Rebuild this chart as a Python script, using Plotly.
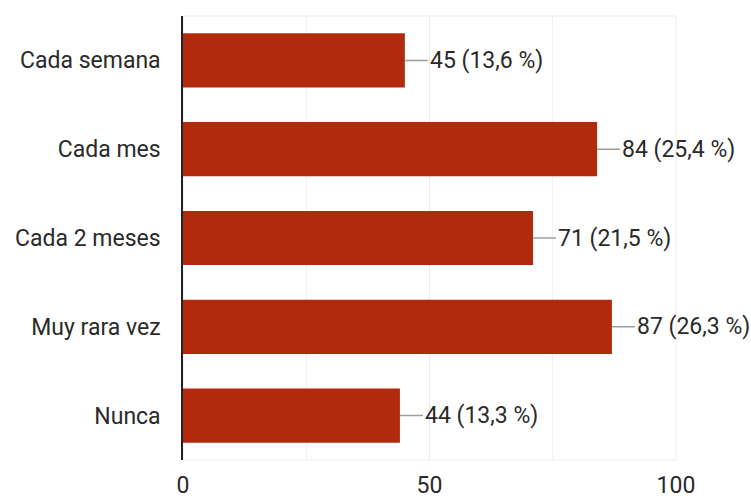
import plotly.graph_objects as go

categories = ["Cada semana", "Cada mes", "Cada 2 meses", "Muy rara vez", "Nunca"]
counts = [45, 84, 71, 87, 44]
percents = ["13,6", "25,4", "21,5", "26,3", "13,3"]
x_ticks = [0, 50, 100]

FS = 23

fig = go.Figure(go.Bar(
    x=counts, y=categories, orientation="h",
    marker=dict(color="#b22a0d", line=dict(width=0)),
    width=0.61, hoverinfo="skip",
))

for c, v, p in zip(categories, counts, percents):
    fig.add_annotation(
        x=v, y=c, xref="x", yref="y",
        text=f"{v} ({p} %)", showarrow=True, arrowhead=0, arrowwidth=1.5,
        arrowcolor="#9e9e9e", ax=23, ay=0, xanchor="left", standoff=0,
        font=dict(family="Roboto", size=FS, color="#2a2a2a"),
    )

fig.add_shape(type="rect", xref="paper", yref="paper", x0=0, x1=1, y0=0, y1=1,
              line=dict(color="#ececec", width=1), layer="below")

fig.update_layout(
    width=751, height=500,
    margin=dict(l=183, r=75, t=16, b=40),
    paper_bgcolor="white", plot_bgcolor="white",
    showlegend=False,
    font=dict(family="Roboto", size=FS, color="#2a2a2a"),
    xaxis=dict(range=[0, 100], tickvals=x_ticks, showgrid=True, gridcolor="#ececec",
               minor=dict(dtick=25, showgrid=True, gridcolor="#f2f2f2"),
               zeroline=False, ticks="outside", ticklen=4, tickcolor="rgba(0,0,0,0)",
               tickfont=dict(size=FS, color="#2a2a2a"), fixedrange=True,
               automargin=False),
    yaxis=dict(categoryorder="array", categoryarray=categories[::-1],
               showline=True, linecolor="#222222", linewidth=1.5,
               ticks="outside", ticklen=16, tickcolor="rgba(0,0,0,0)",
               tickfont=dict(size=FS, color="#2a2a2a"), showgrid=False,
               automargin=False),
)

fig.write_html("out.html")
